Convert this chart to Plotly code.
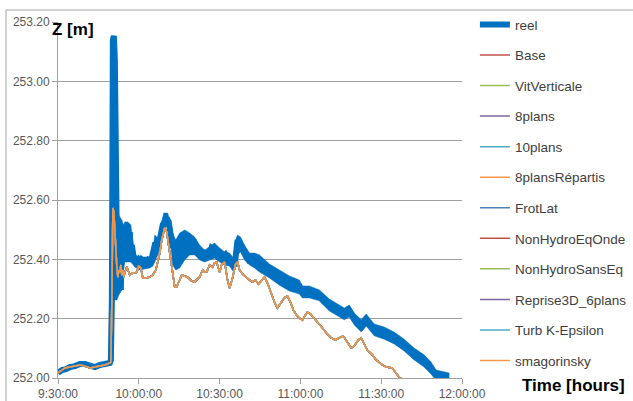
import plotly.graph_objects as go

# time in minutes after 9:30:00
reel_t = [0.0, 1.48, 2.96, 4.44, 6.30, 8.15, 10.0, 11.85, 13.70, 15.56, 17.41, 19.26, 19.63, 20.0, 20.37, 20.74,
          21.11, 21.48, 21.85, 22.04, 22.22, 22.59, 22.96, 23.33, 23.70, 24.07, 24.44, 24.81, 25.19, 25.56, 25.93,
          26.30, 26.67, 27.04, 27.41, 28.15, 28.89, 29.63, 30.37, 31.11, 32.22, 33.33, 34.07, 34.81, 35.93, 37.04,
          37.78, 38.89, 39.63, 40.37, 41.11, 41.85, 42.59, 43.33, 43.70, 44.44, 45.19, 45.93, 46.67, 47.41, 48.15,
          48.89, 49.63, 50.37, 51.11, 51.85, 52.59, 53.33, 54.44, 55.56, 56.30, 57.04, 58.15, 59.26, 60.0, 61.11,
          62.22, 63.33, 64.44, 65.56, 66.30, 66.67, 67.41, 68.52, 69.63, 70.74, 71.85, 72.96, 74.07, 75.19, 76.30,
          77.41, 78.52, 79.63, 80.74, 82.22, 84.07, 85.93, 87.78, 89.63, 90.74, 91.85, 93.33, 95.19, 97.04, 98.89,
          100.74, 102.59, 104.44, 106.30, 108.15, 110.0, 111.85, 112.96, 114.44, 115.56, 117.41, 119.26, 121.11,
          122.96, 124.81, 126.67, 128.52, 130.37, 132.22, 134.07, 135.93, 137.78, 139.63, 141.48, 143.33, 145.19]
reel_z = [252.017, 252.027, 252.030, 252.037, 252.040, 252.047, 252.047, 252.040, 252.037, 252.044, 252.047,
          252.051, 252.061, 252.263, 253.139, 253.153, 253.072, 252.802, 252.566, 252.297, 252.516, 252.313,
          252.499, 252.297, 252.499, 252.398, 252.516, 252.415, 252.499, 252.415, 252.506, 252.404, 252.492,
          252.404, 252.448, 252.404, 252.391, 252.398, 252.381, 252.398, 252.388, 252.398, 252.391, 252.404,
          252.448, 252.448, 252.465, 252.516, 252.533, 252.539, 252.526, 252.482, 252.438, 252.465, 252.391,
          252.448, 252.391, 252.472, 252.415, 252.482, 252.425, 252.475, 252.431, 252.465, 252.425, 252.438,
          252.415, 252.431, 252.404, 252.425, 252.411, 252.438, 252.431, 252.415, 252.421, 252.404, 252.415,
          252.398, 252.391, 252.377, 252.448, 252.465, 252.455, 252.431, 252.415, 252.398, 252.404, 252.391,
          252.391, 252.381, 252.371, 252.364, 252.357, 252.347, 252.344, 252.337, 252.324, 252.320, 252.320,
          252.310, 252.290, 252.286, 252.290, 252.283, 252.276, 252.256, 252.246, 252.236, 252.226, 252.216,
          252.226, 252.199, 252.185, 252.175, 252.195, 252.182, 252.162, 252.158, 252.152, 252.145, 252.135,
          252.125, 252.111, 252.098, 252.081, 252.071, 252.057, 252.037, 252.020, 252.008, 252.007, 252.006]

# envelope (min / max) of the noisy measured signal
env_t = [20.74, 21.85, 22.59, 23.70, 24.26, 24.81, 25.93, 27.04, 27.78, 28.52, 30.37, 34.07, 35.19, 35.93, 37.04,
         38.15, 39.26, 40.74, 41.85, 42.59, 43.70, 45.19, 47.04, 48.89, 50.74, 52.59, 54.44, 56.30, 58.15, 60.0,
         61.85, 63.70, 65.19, 65.93, 66.67, 67.78, 69.26, 71.11, 72.96, 74.81, 76.67, 78.52, 82.22, 85.93, 89.63,
         90.74, 93.33, 97.04, 100.74, 104.44, 106.30, 108.15, 110.0, 112.59, 114.44, 117.41, 121.11, 124.81,
         128.52, 132.22, 135.93, 138.52, 140.37, 145.19]
env_hi = [253.156, 252.600, 252.549, 252.533, 252.516, 252.526, 252.526, 252.516, 252.465, 252.415, 252.408,
          252.408, 252.431, 252.482, 252.472, 252.516, 252.556, 252.556, 252.516, 252.489, 252.465, 252.489,
          252.499, 252.489, 252.475, 252.448, 252.431, 252.442, 252.455, 252.438, 252.425, 252.421, 252.404,
          252.465, 252.482, 252.475, 252.448, 252.421, 252.421, 252.415, 252.398, 252.384, 252.364, 252.344,
          252.330, 252.310, 252.310, 252.297, 252.266, 252.246, 252.236, 252.246, 252.219, 252.196, 252.216,
          252.182, 252.172, 252.155, 252.131, 252.101, 252.078, 252.054, 252.027, 252.017]
env_lo = [252.263, 252.263, 252.280, 252.297, 252.364, 252.391, 252.391, 252.391, 252.381, 252.374, 252.364,
          252.371, 252.377, 252.391, 252.415, 252.448, 252.506, 252.512, 252.448, 252.381, 252.364, 252.371,
          252.398, 252.415, 252.415, 252.398, 252.391, 252.398, 252.404, 252.391, 252.381, 252.377, 252.357,
          252.371, 252.415, 252.425, 252.398, 252.381, 252.371, 252.357, 252.347, 252.337, 252.313, 252.293,
          252.283, 252.270, 252.270, 252.260, 252.226, 252.206, 252.196, 252.206, 252.179, 252.155, 252.175,
          252.142, 252.131, 252.115, 252.091, 252.061, 252.037, 252.013, 251.993, 251.990]

sim_t = [0.0, 1.48, 2.59, 4.44, 6.30, 8.15, 10.0, 11.85, 13.70, 15.56, 17.41, 19.26, 19.63, 20.0, 20.37, 20.74,
         21.11, 21.48, 21.85, 22.22, 22.59, 22.96, 23.33, 23.70, 24.07, 24.44, 24.81, 25.56, 26.30, 26.67, 27.78,
         28.52, 29.26, 30.0, 30.74, 31.48, 32.59, 34.07, 35.19, 36.30, 37.04, 37.78, 38.52, 39.26, 39.63, 40.37,
         41.11, 41.85, 42.59, 43.33, 44.07, 44.81, 45.93, 47.04, 48.15, 49.63, 50.74, 51.85, 52.59, 53.70, 54.44,
         55.19, 56.30, 57.41, 58.15, 58.89, 60.0, 60.74, 61.85, 62.96, 63.70, 64.81, 65.93, 66.67, 67.41, 68.52,
         70.0, 71.11, 72.22, 73.33, 74.44, 75.56, 76.67, 77.78, 78.89, 80.37, 81.48, 82.59, 84.07, 85.19, 86.30,
         87.41, 88.52, 89.63, 90.74, 91.85, 92.59, 93.70, 95.19, 96.67, 98.15, 99.63, 101.48, 102.96, 104.44,
         105.93, 107.41, 108.89, 110.0, 111.48, 112.59, 113.70, 114.81, 116.67, 118.15, 120.0, 121.85, 124.07,
         125.56, 126.67, 128.15, 129.63]
sim_z = [252.017, 252.027, 252.034, 252.037, 252.040, 252.044, 252.040, 252.034, 252.037, 252.040, 252.044,
         252.051, 252.054, 252.263, 252.573, 252.560, 252.489, 252.431, 252.374, 252.340, 252.364, 252.357,
         252.381, 252.347, 252.364, 252.340, 252.357, 252.374, 252.357, 252.347, 252.354, 252.354, 252.357,
         252.377, 252.371, 252.337, 252.337, 252.340, 252.347, 252.364, 252.391, 252.421, 252.465, 252.499,
         252.506, 252.492, 252.448, 252.404, 252.347, 252.307, 252.307, 252.324, 252.347, 252.344, 252.340,
         252.327, 252.324, 252.334, 252.340, 252.364, 252.357, 252.357, 252.381, 252.374, 252.388, 252.391,
         252.357, 252.381, 252.391, 252.330, 252.303, 252.337, 252.384, 252.391, 252.364, 252.351, 252.337,
         252.330, 252.324, 252.330, 252.317, 252.330, 252.340, 252.320, 252.290, 252.256, 252.236, 252.249,
         252.270, 252.276, 252.256, 252.229, 252.212, 252.202, 252.195, 252.212, 252.222, 252.216, 252.202,
         252.185, 252.169, 252.152, 252.135, 252.128, 252.135, 252.142, 252.121, 252.101, 252.108, 252.128,
         252.135, 252.115, 252.094, 252.078, 252.061, 252.047, 252.037, 252.034, 252.017, 252.003, 251.993,
         251.980]

sim_names = ["Base", "VitVerticale", "8plans", "10plans", "8plansRépartis", "FrotLat",
             "NonHydroEqOnde", "NonHydroSansEq", "Reprise3D_6plans", "Turb K-Epsilon", "smagorinsky"]
sim_colors = ["#C0504D", "#9BBB59", "#8064A2", "#4BACC6", "#F79646", "#4F81BD",
              "#C0504D", "#9BBB59", "#8064A2", "#4BACC6", "#F79646"]

x_tickvals = [0, 30, 60, 90, 120, 150]
x_ticktext = ["9:30:00", "10:00:00", "10:30:00", "11:00:00", "11:30:00", "12:00:00"]

REEL = "#0070C0"
fig = go.Figure()
fig.add_trace(go.Scatter(x=reel_t, y=reel_z, mode="lines", name="reel", legendgroup="reel",
                         line=dict(color=REEL, width=6)))
fig.add_trace(go.Scatter(x=env_t + env_t[::-1], y=env_hi + env_lo[::-1], mode="lines", fill="toself",
                         fillcolor=REEL, line=dict(color=REEL, width=0.5), showlegend=False,
                         legendgroup="reel", hoverinfo="skip"))
for n, c in zip(sim_names, sim_colors):
    fig.add_trace(go.Scatter(x=sim_t, y=sim_z, mode="lines", name=n, legendgroup=n,
                             line=dict(color=c, width=1.5)))

grid = "#A0A0A0"
fig.update_layout(
    width=633, height=401,
    margin=dict(l=58, r=171, t=22, b=23, autoexpand=False),
    paper_bgcolor="white", plot_bgcolor="white",
    font=dict(family="Liberation Sans", size=12, color="#595959"),
    showlegend=True,
    legend=dict(x=1.032, y=1.036, xanchor="left", yanchor="top", tracegroupgap=10, maxheight=1.0,
                font=dict(family="Liberation Sans", size=13.5, color="#404040"),
                bgcolor="rgba(0,0,0,0)"),
    xaxis=dict(range=[0, 150], tickvals=x_tickvals, ticktext=x_ticktext, showgrid=False,
               showline=True, linecolor=grid, ticks="outside", ticklen=5, tickcolor=grid,
               zeroline=False, tickfont=dict(size=12, color="#595959")),
    yaxis=dict(range=[252.0, 253.2], dtick=0.2, tick0=252.0, tickformat=".2f", showgrid=True,
               gridcolor=grid, gridwidth=1, showline=True, linecolor=grid, ticks="outside",
               ticklen=5, tickcolor=grid, zeroline=False, tickfont=dict(size=12, color="#595959")),
    shapes=[dict(type="rect", xref="paper", yref="paper", x0=-0.1287, x1=1.5, y0=-0.2, y1=1.0337,
                 line=dict(color="#A6A6A6", width=1), fillcolor="rgba(0,0,0,0)", layer="below")],
    annotations=[
        dict(text="<b>Z [m]</b>", xref="paper", yref="paper", x=-0.02, y=0.979, xanchor="left",
             yanchor="middle", showarrow=False, font=dict(family="Liberation Sans", size=17, color="black")),
        dict(text="<b>Time [hours]</b>", xref="paper", yref="paper", x=1.143, y=-0.022, xanchor="left",
             yanchor="middle", showarrow=False, font=dict(family="Liberation Sans", size=17, color="black")),
    ],
)

fig.write_html("out.html", post_script="document.body.style.margin='0';",
               config={"displayModeBar": False})
